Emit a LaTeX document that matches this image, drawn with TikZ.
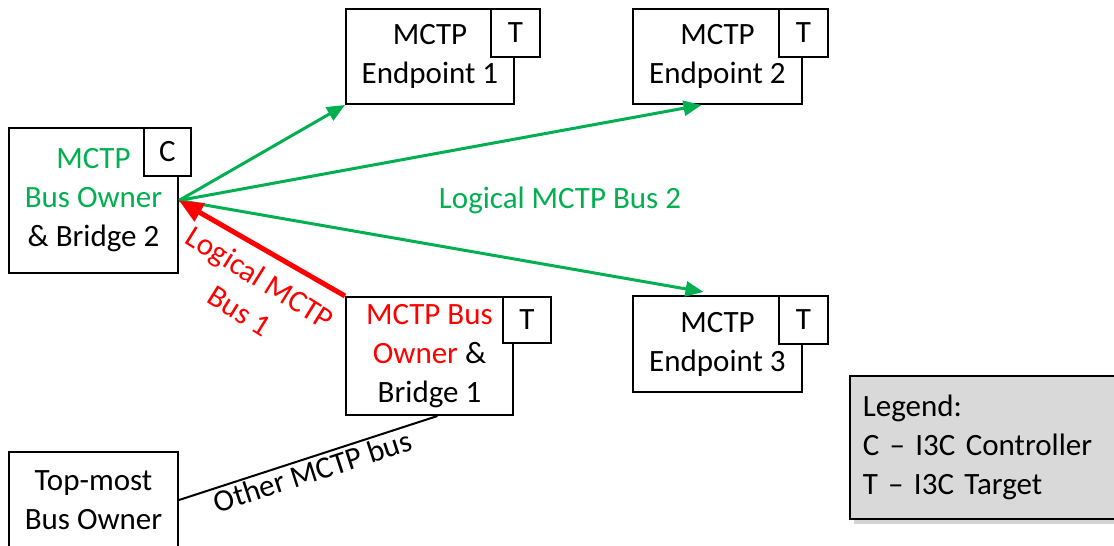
\documentclass[tikz,border=0pt]{standalone}
\usepackage{fontspec}
\setmainfont{Carlito}
\usetikzlibrary{arrows.meta,shadows}
\definecolor{mctpgreen}{HTML}{00B050}
\definecolor{legendgray}{HTML}{D9D9D9}

\begin{document}
\begin{tikzpicture}[
    x=0.5pt, y=0.5pt,
    every node/.style={font=\fontsize{15.5}{19.5}\selectfont},
    unitbox/.style={draw, line width=1pt, fill=white, align=center, inner sep=0pt},
    rolebox/.style={draw, line width=1pt, fill=white, anchor=north west,
      minimum width=24.5pt, minimum height=24pt, inner sep=0pt},
    greenbus/.style={draw=mctpgreen, line width=1.5pt,
      -{Triangle[length=9pt,width=7.5pt]}},
    redbus/.style={draw=red, line width=2.5pt,
      -{Triangle[length=12pt,width=10pt]}},
    legendbox/.style={draw, line width=0.8pt, fill=legendgray, anchor=north west,
      minimum height=71.5pt, text width=130pt, inner xsep=6.5pt, align=left,
      drop shadow={shadow xshift=2pt, shadow yshift=-2.5pt, opacity=.35}}
  ]
  \clip (0,0) rectangle (1114,546);

  \node[unitbox, minimum width=84.5pt, minimum height=72.5pt] (bo2) at (93.5,345.5)
    {\textcolor{mctpgreen}{MCTP}\\\textcolor{mctpgreen}{Bus Owner}\\\& Bridge 2};
  \node[unitbox, minimum width=84pt, minimum height=47.5pt] (ep1) at (430,489.5)
    {MCTP\\Endpoint 1};
  \node[unitbox, minimum width=84.5pt, minimum height=47.5pt] (ep2) at (717.5,489.5)
    {MCTP\\Endpoint 2};
  \node[unitbox, minimum width=84.5pt, minimum height=48pt] (ep3) at (717.5,202)
    {MCTP\\Endpoint 3};
  \node[unitbox, minimum width=83.5pt, minimum height=59pt] (br1) at (429.5,190)
    {\textcolor{red}{MCTP Bus}\\\textcolor{red}{Owner} \&\\Bridge 1};
  \node[unitbox, minimum width=84.5pt, minimum height=48pt] (top) at (93.5,46)
    {Top-most\\Bus Owner};

  \node[rolebox, minimum width=23.5pt] (bo2role) at ([xshift=-18pt]bo2.north east) {C};
  \node[rolebox] (ep1role) at ([xshift=-12.5pt]ep1.north east) {T};
  \node[rolebox] (ep2role) at ([xshift=-12.5pt]ep2.north east) {T};
  \node[rolebox] (ep3role) at ([xshift=-12.5pt]ep3.north east) {T};
  \node[rolebox, minimum width=24pt, minimum height=23pt] (br1role) at ([xshift=-6pt]br1.north east) {T};

  \draw[greenbus] (bo2.east) -- (ep1.south west);
  \draw[greenbus] (bo2.east) -- ([xshift=-8pt]ep2.south);
  \draw[greenbus] (bo2.east) -- ([xshift=-7pt,yshift=1.5pt]ep3.north);
  \draw[redbus] (br1.north west) -- (bo2.east);
  \draw[line width=1pt] (top.east) -- ([xshift=4pt]br1.south)
    node[midway, below, sloped, inner sep=1pt] (otherbus) {Other MCTP bus};

  \node[text=mctpgreen] (bus2) at (560,346) {Logical MCTP Bus 2};
  \node[text=red, align=center, rotate=-32] (bus1) at (250,252) {Logical MCTP\\Bus 1};

  \node[legendbox] (legend) at (849,171)
    {Legend:\\C -- I3C Controller\\T -- I3C Target};
\end{tikzpicture}
\end{document}
